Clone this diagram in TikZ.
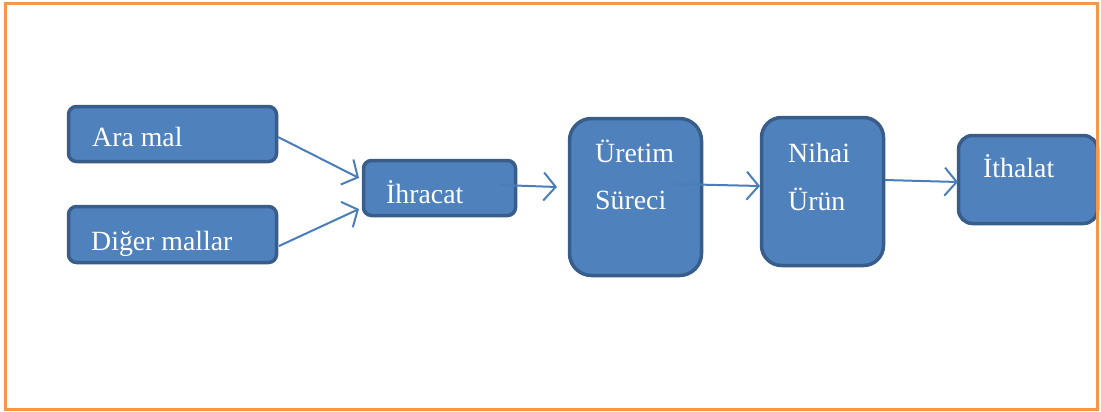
\documentclass[tikz,border=0pt]{standalone}
\usepackage{fontspec}
\setmainfont{Liberation Serif}
\usetikzlibrary{arrows.meta}
\definecolor{boxfill}{HTML}{4F81BD}
\definecolor{boxline}{HTML}{385D8A}
\definecolor{arrowcol}{HTML}{4A7EBB}
\definecolor{frameorange}{HTML}{F79646}
\tikzset{
  box/.style={draw=boxline, fill=boxfill, line width=3.5pt, inner sep=0pt},
  lbl/.style={anchor=base west, inner sep=0pt, text=white, font=\fontsize{27.8}{33}\selectfont},
  conn/.style={draw=arrowcol, line width=2pt, -{Straight Barb[length=12pt,width=28pt,line width=2pt]}}
}
\begin{document}
\begin{tikzpicture}[x=1pt,y=-1pt]
\useasboundingbox (0,0) rectangle (1101,412);
% boxes
\node[box, rounded corners=8pt, minimum width=208pt, minimum height=55pt] (ara) at (172.5,134) {};
\node[box, rounded corners=8pt, minimum width=208pt, minimum height=56pt] (diger) at (172.5,234.5) {};
\node[box, rounded corners=8pt, minimum width=152pt, minimum height=55pt] (ihr) at (439.5,188) {};
\node[box, rounded corners=22pt, minimum width=132pt, minimum height=157pt] (ure) at (635.5,197) {};
\node[box, rounded corners=20pt, minimum width=122pt, minimum height=148pt] (nih) at (822.5,191.5) {};
\node[box, rounded corners=14pt, minimum width=139pt, minimum height=88pt] (ith) at (1028,179.5) {};
% labels
\node[lbl] (taramal) at (92,146) {Ara mal};
\node[lbl] (tdiger) at (91,250) {Diğer mallar};
\node[lbl] (tihr) at (386,203) {İhracat};
\node[lbl] (ture1) at (595,162) {Üretim};
\node[lbl] (ture2) at (595,209) {Süreci};
\node[lbl] (tnih1) at (788,162) {Nihai};
\node[lbl] (tnih2) at (788,210) {Ürün};
\node[lbl] (tith) at (983,177) {İthalat};
% connector points
\coordinate (a1) at (278,137);
\coordinate (a2) at (359,178);
\coordinate (d1) at (279,246);
\coordinate (d2) at (359,209);
\coordinate (i1) at (500,185);
\coordinate (i2) at (557,187);
\coordinate (u1) at (674,184);
\coordinate (u2) at (760,186);
\coordinate (n1) at (885,180);
\coordinate (n2) at (958,182);
\draw[conn] (a1) -- (a2);
\draw[conn] (d1) -- (d2);
\draw[conn] (i1) -- (i2);
\draw[conn] (u1) -- (u2);
\draw[conn] (n1) -- (n2);
% frame
\draw[frameorange, line width=3.5pt] (5.5,3.5) rectangle (1097.5,409.5);
\end{tikzpicture}
\end{document}
